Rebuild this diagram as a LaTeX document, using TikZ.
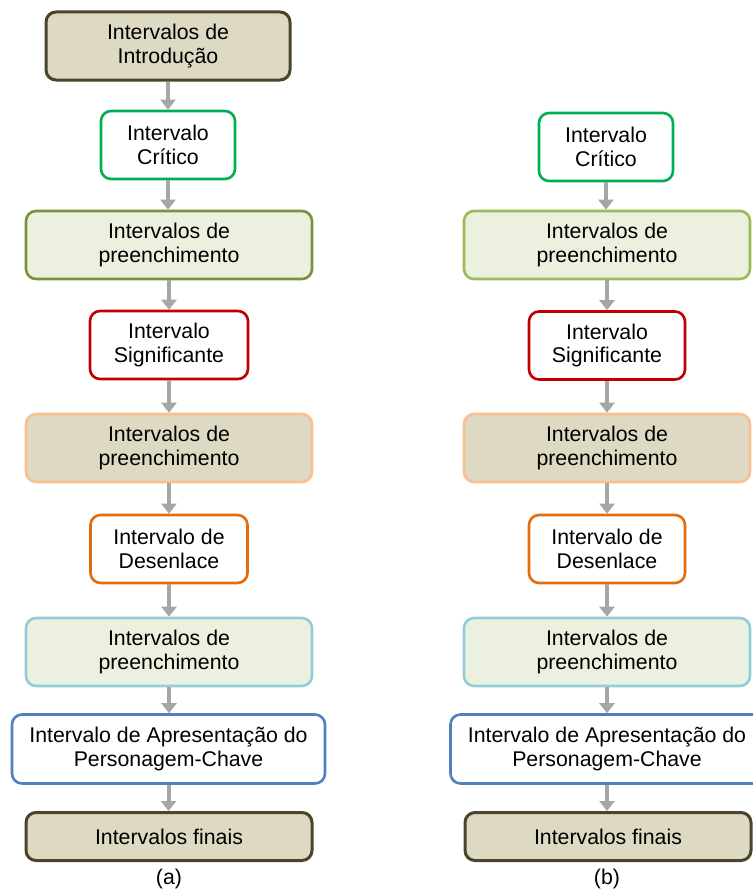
\documentclass[tikz,border=0pt]{standalone}
\usepackage{fontspec}
\setmainfont{Liberation Sans}
\usetikzlibrary{arrows.meta}
\definecolor{tanfill}{HTML}{DDD9C3}
\definecolor{tanedge}{HTML}{4A452A}
\definecolor{greenfill}{HTML}{EBF1DE}
\definecolor{critedge}{HTML}{00B050}
\definecolor{olivedge}{HTML}{77933C}
\definecolor{lightolive}{HTML}{9BBB59}
\definecolor{sigedge}{HTML}{C00000}
\definecolor{peachedge}{HTML}{FAC090}
\definecolor{orangeedge}{HTML}{E46C0A}
\definecolor{skyedge}{HTML}{92CDDC}
\definecolor{blueedge}{HTML}{4F81BD}
\definecolor{arrowgray}{HTML}{A6A6A6}
\begin{document}
\begin{tikzpicture}[x=1pt,y=-1pt,
  box/.style={draw, rounded corners=10pt, line width=2.6pt, align=center,
    inner sep=0pt, minimum height=68pt,
    font=\fontsize{21.3}{23.3}\selectfont, text=black},
  tanbox/.style={box, fill=tanfill, draw=tanedge, line width=3pt},
  greenbox/.style={box, fill=greenfill},
  whitebox/.style={box, fill=white},
  flow/.style={draw=arrowgray, line width=4pt,
    -{Triangle[width=15pt,length=10pt]}},
  captext/.style={font=\fontsize{21.3}{23.3}\selectfont}]
\useasboundingbox (0,0) rectangle (752,891);

% column (a)
\node[tanbox, minimum width=244pt] (a1) at (168,46) {Intervalos de\\Introdução};
\node[whitebox, draw=critedge, minimum width=134pt] (a2) at (168,145) {Intervalo\\Crítico};
\node[greenbox, draw=olivedge, minimum width=286pt] (a3) at (169,245) {Intervalos de\\preenchimento};
\node[whitebox, draw=sigedge, minimum width=158pt] (a4) at (169,345) {Intervalo\\Significante};
\node[box, fill=tanfill, draw=peachedge, minimum width=286pt] (a5) at (169,448) {Intervalos de\\preenchimento};
\node[whitebox, draw=orangeedge, minimum width=157pt] (a6) at (169,549) {Intervalo de\\Desenlace};
\node[greenbox, draw=skyedge, minimum width=286pt] (a7) at (169,652) {Intervalos de\\preenchimento};
\node[whitebox, draw=blueedge, minimum width=313pt, minimum height=69pt] (a8) at (168.5,749) {Intervalo de Apresentação do\\Personagem-Chave};
\node[tanbox, minimum width=286pt, minimum height=48pt] (a9) at (169,836.5) {Intervalos finais};
\node[captext] (capa) at (169,879) {(a)};

% connectors run straight down from each box
\foreach \s/\t in {a1/a2,a2/a3,a3/a4,a4/a5,a5/a6,a6/a7,a7/a8,a8/a9}
  \draw[flow] (\s.south) -- (\s.south |- \t.north);

% column (b)
\node[whitebox, draw=critedge, minimum width=134pt] (b2) at (606,147) {Intervalo\\Crítico};
\node[greenbox, draw=lightolive, minimum width=286pt] (b3) at (607,245) {Intervalos de\\preenchimento};
\node[whitebox, draw=sigedge, minimum width=156pt] (b4) at (607,345.5) {Intervalo\\Significante};
\node[box, fill=tanfill, draw=peachedge, minimum width=286pt] (b5) at (607,448) {Intervalos de\\preenchimento};
\node[whitebox, draw=orangeedge, minimum width=156pt] (b6) at (607,549) {Intervalo de\\Desenlace};
\node[greenbox, draw=skyedge, minimum width=286pt] (b7) at (607,652) {Intervalos de\\preenchimento};
\node[whitebox, draw=blueedge, minimum width=313pt, minimum height=69pt] (b8) at (607,749) {Intervalo de Apresentação do\\Personagem-Chave};
\node[tanbox, minimum width=286pt, minimum height=48pt] (b9) at (608,836.5) {Intervalos finais};
\node[captext] (capb) at (607,879) {(b)};

\foreach \s/\t in {b2/b3,b3/b4,b4/b5,b5/b6,b6/b7,b7/b8,b8/b9}
  \draw[flow] (\s.south) -- (\s.south |- \t.north);
\end{tikzpicture}
\end{document}
